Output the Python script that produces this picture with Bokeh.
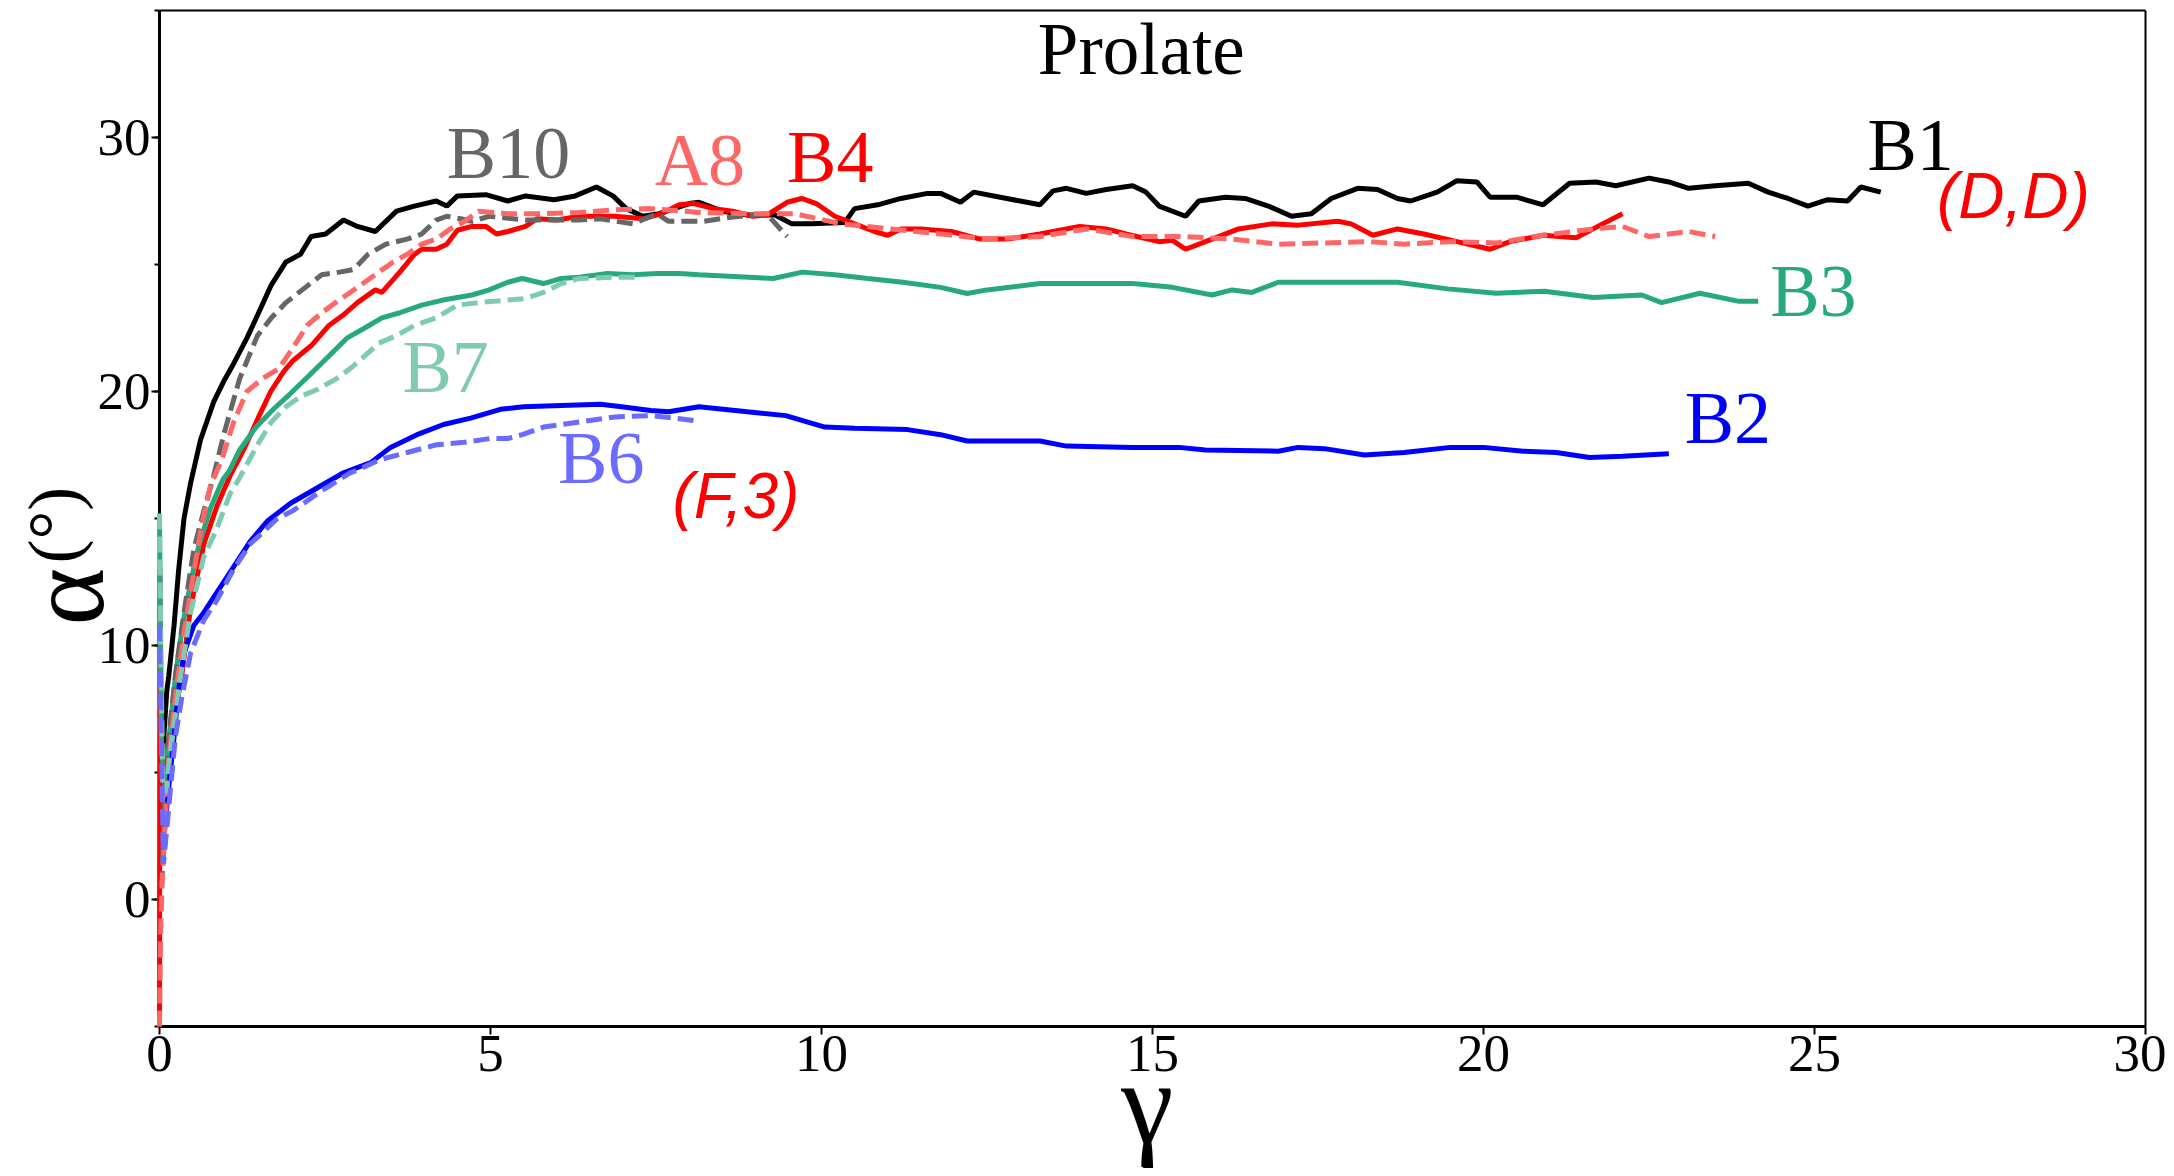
import math
from bokeh.plotting import figure
from bokeh.models import Range1d, SingleIntervalTicker, FixedTicker, LinearAxis
from bokeh.core.properties import value
from bokeh.embed import file_html
from bokeh.resources import INLINE

# ---------------- data (gamma, alpha in degrees) ----------------
b1_x = [0.04, 0.08, 0.11, 0.14, 0.22, 0.29, 0.37, 0.47, 0.62, 0.82, 0.97, 1.1, 1.32, 1.48, 1.69, 1.91,
        2.13, 2.29, 2.51, 2.78, 2.99, 3.26, 3.58, 3.85, 4.18, 4.34, 4.5, 4.93, 5.26, 5.53, 5.96, 6.28,
        6.6, 6.85, 7.05, 7.3, 7.55, 8.0, 8.15, 8.5, 8.88, 9.3, 9.55, 9.85, 10.35, 10.5, 10.85, 11.2,
        11.6, 11.8, 12.1, 12.3, 12.7, 13.0, 13.3, 13.5, 13.7, 14.0, 14.3, 14.7, 14.9, 15.1, 15.5, 15.7,
        16.1, 16.4, 16.75, 17.1, 17.4, 17.7, 18.1, 18.4, 18.7, 18.9, 19.3, 19.6, 19.9, 20.1, 20.5, 20.9,
        21.3, 21.7, 22.0, 22.5, 22.8, 23.1, 23.5, 24.0, 24.3, 24.6, 24.9, 25.2, 25.5, 25.7, 26.0]
b1_y = [5.5, 7.0, 8.2, 8.8, 10.8, 13.0, 15.0, 16.4, 18.1, 19.6, 20.4, 21.0, 22.1, 23.0, 24.2, 25.1,
        25.4, 26.1, 26.2, 26.75, 26.5, 26.3, 27.1, 27.3, 27.5, 27.3, 27.7, 27.75, 27.5, 27.7, 27.55, 27.7,
        28.05, 27.7, 27.2, 26.9, 27.0, 27.4, 27.45, 27.1, 26.95, 26.95, 26.6, 26.6, 26.65, 27.2, 27.35, 27.6,
        27.8, 27.8, 27.45, 27.85, 27.65, 27.5, 27.35, 27.9, 28.0, 27.8, 27.95, 28.1, 27.85, 27.3, 26.9, 27.5,
        27.65, 27.6, 27.3, 26.9, 27.0, 27.6, 28.0, 27.95, 27.6, 27.5, 27.85, 28.3, 28.25, 27.65, 27.65, 27.35,
        28.2, 28.25, 28.1, 28.4, 28.25, 28.0, 28.1, 28.2, 27.85, 27.6, 27.3, 27.55, 27.5, 28.05, 27.85]

b10_x = [0.02, 0.04, 0.07, 0.14, 0.24, 0.37, 0.52, 0.67, 0.81, 0.97, 1.21, 1.48, 1.69, 1.91, 2.18, 2.45,
         2.72, 2.93, 3.15, 3.42, 3.74, 3.96, 4.18, 4.34, 4.55, 4.72, 4.98, 5.53, 6.34, 6.66, 7.15, 7.52,
         7.69, 8.22, 8.6, 9.17, 9.48]
b10_y = [0.5, 0.9, 3.9, 6.4, 8.8, 11.3, 13.8, 15.3, 16.6, 18.3, 20.5, 22.2, 22.9, 23.5, 24.05, 24.6,
         24.7, 24.8, 25.4, 25.8, 26.0, 26.2, 26.75, 26.9, 26.8, 26.7, 26.9, 26.75, 26.75, 26.8, 26.6, 27.0,
         26.7, 26.7, 26.85, 27.0, 26.1]

a8_x = [0.0, 0.02, 0.04, 0.07, 0.14, 0.24, 0.37, 0.47, 0.62, 0.77, 0.94, 1.12, 1.32, 1.55, 1.8, 2.01,
        2.23, 2.45, 2.66, 2.88, 3.1, 3.31, 3.53, 3.74, 3.96, 4.18, 4.39, 4.61, 4.82, 5.26, 5.8, 6.34,
        6.88, 7.42, 8.15, 8.88, 9.6, 10.3, 11.05, 11.8, 12.5, 13.3, 14.0, 14.7, 15.5, 16.2, 16.9, 17.6,
        18.3, 18.8, 19.5, 20.2, 20.9, 21.66, 22.1, 22.5, 23.1, 23.5]
a8_y = [-5.0, -1.0, 0.6, 2.2, 5.5, 8.0, 10.5, 12.1, 14.5, 16.3, 17.3, 18.8, 20.0, 20.5, 20.9, 21.7,
        22.6, 23.1, 23.5, 23.9, 24.3, 24.7, 25.1, 25.4, 25.8, 26.0, 26.4, 26.7, 27.1, 27.0, 27.0, 27.05,
        27.15, 27.2, 27.05, 27.0, 27.0, 26.6, 26.4, 26.2, 26.0, 26.1, 26.4, 26.1, 26.1, 26.0, 25.8, 25.85,
        25.9, 25.8, 25.9, 25.85, 26.15, 26.4, 26.5, 26.1, 26.3, 26.1]

b4_x = [0.0, 0.005, 0.03, 0.08, 0.15, 0.32, 0.47, 0.67, 0.87, 1.07, 1.27, 1.48, 1.68, 1.88, 2.01, 2.29,
        2.56, 2.77, 2.99, 3.26, 3.36, 3.63, 3.85, 3.96, 4.18, 4.34, 4.5, 4.72, 4.93, 5.09, 5.26, 5.53,
        5.7, 6.01, 6.34, 6.88, 7.31, 7.58, 7.85, 8.07, 8.37, 8.66, 8.96, 9.18, 9.48, 9.7, 9.92, 10.2,
        10.5, 10.8, 11.0, 11.2, 11.5, 11.96, 12.4, 12.8, 13.3, 13.9, 14.3, 14.6, 15.1, 15.3, 15.5, 15.9,
        16.3, 16.8, 17.2, 17.8, 18.0, 18.33, 18.7, 19.1, 19.6, 20.1, 20.4, 20.9, 21.4, 21.8, 22.1]
b4_y = [-5.0, 13.0, 5.0, 4.5, 6.5, 8.5, 11.5, 14.0, 15.5, 16.7, 17.7, 18.9, 20.0, 20.8, 21.2, 21.8,
        22.6, 23.0, 23.5, 24.0, 23.9, 24.7, 25.4, 25.6, 25.6, 25.8, 26.35, 26.5, 26.5, 26.2, 26.3, 26.5,
        26.8, 26.75, 26.9, 26.9, 26.8, 27.0, 27.35, 27.4, 27.2, 27.1, 26.9, 26.95, 27.45, 27.6, 27.4, 26.9,
        26.6, 26.3, 26.15, 26.4, 26.4, 26.3, 26.0, 26.0, 26.2, 26.5, 26.4, 26.2, 25.9, 25.95, 25.6, 26.0,
        26.4, 26.6, 26.55, 26.7, 26.6, 26.15, 26.4, 26.2, 25.9, 25.6, 25.9, 26.15, 26.05, 26.6, 27.0]

b3_x = [0.0, 0.03, 0.08, 0.15, 0.25, 0.35, 0.47, 0.6, 0.77, 0.95, 1.06, 1.21, 1.46, 1.72, 1.97, 2.21,
        2.56, 2.83, 3.1, 3.36, 3.63, 3.96, 4.28, 4.72, 4.98, 5.26, 5.48, 5.8, 6.07, 6.34, 6.77, 7.15,
        7.53, 7.85, 8.15, 8.9, 9.27, 9.71, 10.2, 10.7, 11.23, 11.8, 12.2, 12.5, 13.3, 14.0, 14.7, 15.3,
        15.9, 16.2, 16.5, 16.9, 17.6, 18.3, 18.7, 19.46, 20.19, 20.92, 21.66, 22.39, 22.69, 23.27, 23.86, 24.15]
b3_y = [14.8, 6.0, 4.5, 6.5, 9.0, 10.8, 12.5, 14.0, 15.4, 16.5, 16.9, 17.7, 18.6, 19.3, 19.9, 20.5,
        21.4, 22.1, 22.5, 22.9, 23.1, 23.4, 23.6, 23.8, 24.0, 24.3, 24.45, 24.25, 24.45, 24.5, 24.65, 24.6,
        24.65, 24.65, 24.6, 24.5, 24.45, 24.7, 24.6, 24.45, 24.3, 24.1, 23.86, 24.0, 24.25, 24.25, 24.25, 24.1,
        23.8, 24.0, 23.9, 24.3, 24.3, 24.3, 24.3, 24.04, 23.87, 23.95, 23.7, 23.8, 23.5, 23.87, 23.55, 23.55]

b7_x = [0.0, 0.02, 0.05, 0.1, 0.15, 0.32, 0.47, 0.67, 0.85, 1.07, 1.21, 1.48, 1.69, 1.91, 2.13, 2.4,
        2.67, 2.88, 3.1, 3.31, 3.58, 3.85, 4.18, 4.5, 4.82, 5.26, 5.53, 5.8, 6.07, 6.34, 6.88, 7.2]
b7_y = [15.2, 10.0, 4.5, 4.2, 5.5, 8.8, 11.3, 13.5, 14.5, 16.0, 16.6, 17.9, 18.8, 19.4, 19.8, 20.1,
        20.5, 20.9, 21.4, 21.9, 22.2, 22.6, 22.9, 23.4, 23.5, 23.6, 23.66, 23.9, 24.25, 24.45, 24.5, 24.5]

b2_x = [0.08, 0.15, 0.22, 0.29, 0.37, 0.52, 0.67, 0.87, 1.12, 1.37, 1.63, 1.98, 2.38, 2.78, 3.19, 3.49,
        3.89, 4.29, 4.7, 5.15, 5.5, 6.07, 6.66, 6.98, 7.42, 7.69, 8.15, 8.88, 9.46, 10.05, 10.5, 11.3,
        11.8, 12.2, 13.3, 13.7, 14.7, 15.4, 15.8, 16.9, 17.2, 17.6, 18.2, 18.8, 19.5, 20.0, 20.6, 21.1,
        21.6, 22.1, 22.8]
b2_y = [2.8, 4.7, 6.4, 8.3, 9.7, 10.8, 11.3, 12.1, 13.1, 14.1, 14.9, 15.6, 16.2, 16.8, 17.2, 17.8,
        18.3, 18.7, 18.95, 19.3, 19.4, 19.45, 19.5, 19.4, 19.25, 19.2, 19.4, 19.2, 19.05, 18.6, 18.55, 18.5,
        18.3, 18.05, 18.05, 17.85, 17.8, 17.8, 17.7, 17.65, 17.8, 17.75, 17.5, 17.6, 17.8, 17.8, 17.65, 17.6,
        17.4, 17.45, 17.55]

b6_x = [0.0, 0.03, 0.06, 0.1, 0.15, 0.24, 0.34, 0.47, 0.67, 0.87, 1.12, 1.37, 1.58, 1.78, 2.01, 2.18,
        2.45, 2.58, 2.88, 2.99, 3.31, 3.74, 4.18, 4.6, 5.0, 5.26, 5.48, 5.8, 6.34, 6.88, 7.42, 7.8, 8.08]
b6_y = [10.8, 6.0, 1.4, 2.5, 3.9, 6.4, 8.0, 9.7, 11.0, 11.8, 13.0, 14.0, 14.5, 15.0, 15.3, 15.6,
        16.1, 16.3, 16.8, 16.9, 17.3, 17.6, 17.9, 18.0, 18.15, 18.15, 18.3, 18.6, 18.8, 19.0, 19.05, 18.95, 18.85]

# curve labels
label_texts = ["B10", "A8", "B4", "B1", "B3", "B7", "B2", "B6"]
label_x = [4.34, 7.48, 9.48, 25.8, 24.33, 3.67, 23.04, 6.02]
label_y = [29.38, 29.13, 29.23, 29.7, 23.95, 20.95, 18.95, 17.38]
label_colors = ["#666666", "#ff6666", "#ff0000", "#000000", "#27a97e", "#7fcbb2", "#0000ff", "#6b6bff"]

case_texts = ["(D,D)", "(F,3)"]
case_x = [26.85, 7.75]
case_y = [27.7, 15.88]

title_text = "Prolate"
x_label = "γ"
y_label_main = "α"
y_label_unit = "(°)"

# axis limits of the data area
X_MIN, X_MAX = 0, 30
Y_MIN, Y_MAX = -5, 35

# ---------------- figure ----------------
W, H = 2166, 1176
PX_X = 66.2     # pixels per gamma unit
PX_Y = 25.4     # pixels per degree
LEFT, TOP = 159, 10
x_range = Range1d(X_MIN - LEFT / PX_X, X_MIN + (W - LEFT) / PX_X)
y_range = Range1d(Y_MAX - (H - TOP) / PX_Y, Y_MAX + TOP / PX_Y)

p = figure(width=W, height=H, x_range=x_range, y_range=y_range,
           x_axis_type=None, y_axis_type=None,
           output_backend="svg", toolbar_location=None, min_border=0)
p.xgrid.visible = False
p.ygrid.visible = False
p.outline_line_color = None
p.background_fill_color = "white"
p.border_fill_color = "white"


def style_axis(ax, width=3):
    ax.axis_line_color = "black"
    ax.axis_line_width = width
    ax.major_tick_line_color = "black"
    ax.major_tick_line_width = 2
    ax.minor_tick_line_color = "black"
    ax.minor_tick_line_width = 2
    ax.major_tick_in = 0
    ax.major_tick_out = 8
    ax.minor_tick_in = 0
    ax.minor_tick_out = 5
    ax.major_label_text_font = "Liberation Serif"
    ax.major_label_text_font_size = "53px"
    ax.major_label_text_color = "black"
    ax.major_label_standoff = 1
    ax.level = "underlay"


xaxis = LinearAxis(fixed_location=Y_MIN, bounds=(X_MIN, X_MAX),
                   ticker=SingleIntervalTicker(interval=5, num_minor_ticks=0))
yaxis = LinearAxis(fixed_location=X_MIN, bounds=(Y_MIN, Y_MAX),
                   ticker=SingleIntervalTicker(interval=10, num_minor_ticks=2))
style_axis(xaxis)
style_axis(yaxis)
p.add_layout(xaxis, "below")
p.add_layout(yaxis, "left")

top_axis = LinearAxis(fixed_location=Y_MAX, bounds=(X_MIN, X_MAX), ticker=FixedTicker(ticks=[]))
right_axis = LinearAxis(fixed_location=X_MAX, bounds=(Y_MIN, Y_MAX), ticker=FixedTicker(ticks=[]))
for ax in (top_axis, right_axis):
    style_axis(ax, width=2)
    ax.major_tick_out = 0
    ax.minor_tick_out = 0
p.add_layout(top_axis, "above")
p.add_layout(right_axis, "right")

LW = 5
DASH = "16 7"
p.line(b1_x, b1_y, line_color="#000000", line_width=LW)
p.line(b4_x, b4_y, line_color="#ff0000", line_width=LW)
p.line(b3_x, b3_y, line_color="#27a97e", line_width=LW)
p.line(b2_x, b2_y, line_color="#0000ff", line_width=LW)
p.line(b10_x, b10_y, line_color="#666666", line_width=LW, line_dash=DASH)
p.line(a8_x, a8_y, line_color="#ff6666", line_width=LW, line_dash=DASH)
p.line(b7_x, b7_y, line_color="#7fcbb2", line_width=LW, line_dash=DASH)
p.line(b6_x, b6_y, line_color="#6b6bff", line_width=LW, line_dash=DASH)

p.text(x=label_x, y=label_y, text=label_texts, text_color=label_colors,
       text_font=value("Liberation Serif"), text_font_size=value("74px"),
       text_align="left", text_baseline="alphabetic")
p.text(x=case_x, y=case_y, text=case_texts, text_color="#ff0000",
       text_font=value("Liberation Sans"), text_font_style="italic",
       text_font_size=value("64px"), text_align="left", text_baseline="alphabetic")
p.text(x=[14.83], y=[33.46], text=[title_text], text_color="black",
       text_font=value("Liberation Serif"), text_font_size=value("73px"),
       text_align="center", text_baseline="alphabetic")

# axis titles (placed beside the axes, in the outer part of the plotting area)
p.text(x=[-1.405], y=[10.79], text=[y_label_main], angle=math.pi / 2, text_color="black",
       text_font=value("Liberation Serif"), text_font_size=value("110px"),
       text_align="left", text_baseline="alphabetic")
p.text(x=[-1.60], y=[13.23], text=[y_label_unit], angle=math.pi / 2, text_color="black",
       text_font=value("Liberation Serif"), text_font_size=value("72px"),
       text_align="left", text_baseline="alphabetic")
p.text(x=[14.92], y=[-8.05], text=[x_label], text_color="black",
       text_font=value("Liberation Serif"), text_font_size=value("118px"),
       text_align="center", text_baseline="alphabetic")

open("out.html", "w").write(file_html(p, INLINE))
